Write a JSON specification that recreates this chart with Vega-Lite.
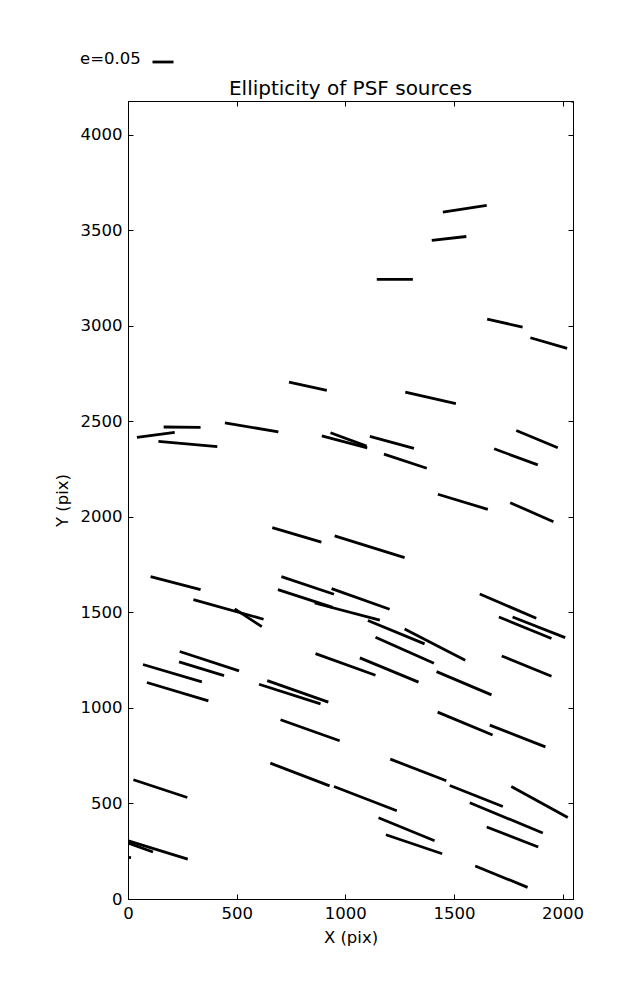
{
  "$schema": "https://vega.github.io/schema/vega-lite/v6.json",
  "width": 445,
  "height": 798,
  "autosize": "none",
  "padding": {"left": 128, "top": 101, "right": 64, "bottom": 101},
  "background": "white",
  "title": {"text": "Ellipticity of PSF sources", "fontSize": 20, "font": "DejaVu Sans", "fontWeight": "normal", "color": "black", "offset": -49, "anchor": "middle"},
  "data": {"values": [
    {"xa": 1449, "ya": 3595, "xb": 1651, "yb": 3630},
    {"xa": 1398, "ya": 3447, "xb": 1557, "yb": 3467},
    {"xa": 1145, "ya": 3243, "xb": 1311, "yb": 3243},
    {"xa": 1653, "ya": 3034, "xb": 1816, "yb": 2993},
    {"xa": 1852, "ya": 2937, "xb": 2021, "yb": 2881},
    {"xa": 741, "ya": 2705, "xb": 915, "yb": 2662},
    {"xa": 1276, "ya": 2653, "xb": 1509, "yb": 2592},
    {"xa": 41, "ya": 2416, "xb": 215, "yb": 2442},
    {"xa": 164, "ya": 2470, "xb": 334, "yb": 2468},
    {"xa": 140, "ya": 2395, "xb": 411, "yb": 2367},
    {"xa": 446, "ya": 2491, "xb": 692, "yb": 2445},
    {"xa": 892, "ya": 2424, "xb": 1101, "yb": 2361},
    {"xa": 932, "ya": 2440, "xb": 1098, "yb": 2370},
    {"xa": 1113, "ya": 2421, "xb": 1316, "yb": 2358},
    {"xa": 1178, "ya": 2328, "xb": 1375, "yb": 2254},
    {"xa": 1787, "ya": 2452, "xb": 1978, "yb": 2361},
    {"xa": 1685, "ya": 2356, "xb": 1886, "yb": 2272},
    {"xa": 1426, "ya": 2118, "xb": 1656, "yb": 2039},
    {"xa": 1759, "ya": 2074, "xb": 1958, "yb": 1974},
    {"xa": 664, "ya": 1943, "xb": 890, "yb": 1868},
    {"xa": 951, "ya": 1900, "xb": 1273, "yb": 1786},
    {"xa": 104, "ya": 1687, "xb": 334, "yb": 1619},
    {"xa": 706, "ya": 1687, "xb": 948, "yb": 1595},
    {"xa": 301, "ya": 1567, "xb": 624, "yb": 1464},
    {"xa": 491, "ya": 1518, "xb": 616, "yb": 1425},
    {"xa": 690, "ya": 1619, "xb": 942, "yb": 1526},
    {"xa": 859, "ya": 1549, "xb": 1159, "yb": 1459},
    {"xa": 937, "ya": 1624, "xb": 1204, "yb": 1516},
    {"xa": 1104, "ya": 1457, "xb": 1365, "yb": 1335},
    {"xa": 1273, "ya": 1413, "xb": 1552, "yb": 1250},
    {"xa": 1139, "ya": 1370, "xb": 1408, "yb": 1234},
    {"xa": 1619, "ya": 1596, "xb": 1879, "yb": 1469},
    {"xa": 1707, "ya": 1476, "xb": 1949, "yb": 1363},
    {"xa": 1770, "ya": 1476, "xb": 2012, "yb": 1368},
    {"xa": 238, "ya": 1295, "xb": 511, "yb": 1194},
    {"xa": 235, "ya": 1241, "xb": 442, "yb": 1169},
    {"xa": 69, "ya": 1227, "xb": 340, "yb": 1136},
    {"xa": 87, "ya": 1133, "xb": 370, "yb": 1037},
    {"xa": 863, "ya": 1284, "xb": 1139, "yb": 1171},
    {"xa": 641, "ya": 1143, "xb": 922, "yb": 1030},
    {"xa": 603, "ya": 1124, "xb": 886, "yb": 1021},
    {"xa": 1067, "ya": 1262, "xb": 1337, "yb": 1135},
    {"xa": 1420, "ya": 1190, "xb": 1673, "yb": 1068},
    {"xa": 1720, "ya": 1272, "xb": 1949, "yb": 1166},
    {"xa": 702, "ya": 938, "xb": 974, "yb": 828},
    {"xa": 1425, "ya": 978, "xb": 1678, "yb": 858},
    {"xa": 1665, "ya": 910, "xb": 1921, "yb": 796},
    {"xa": 25, "ya": 624, "xb": 273, "yb": 531},
    {"xa": 655, "ya": 711, "xb": 928, "yb": 592},
    {"xa": 948, "ya": 589, "xb": 1237, "yb": 462},
    {"xa": 1207, "ya": 732, "xb": 1465, "yb": 619},
    {"xa": 1481, "ya": 594, "xb": 1725, "yb": 484},
    {"xa": 1764, "ya": 589, "xb": 2024, "yb": 427},
    {"xa": 1573, "ya": 504, "xb": 1909, "yb": 345},
    {"xa": 1153, "ya": 425, "xb": 1411, "yb": 305},
    {"xa": 1187, "ya": 336, "xb": 1446, "yb": 237},
    {"xa": 1651, "ya": 377, "xb": 1888, "yb": 272},
    {"xa": -5, "ya": 307, "xb": 275, "yb": 209},
    {"xa": -5, "ya": 295, "xb": 115, "yb": 246},
    {"xa": 1598, "ya": 173, "xb": 1839, "yb": 61},
    {"xa": -30, "ya": 222, "xb": 14, "yb": 216},
    {"xa": 2025, "ya": 4182, "xb": 2060, "yb": 4170}
  ]},
  "layer": [
    {
      "mark": {"type": "rule", "clip": true, "strokeWidth": 2.8, "strokeCap": "butt"},
      "encoding": {
        "x": {"field": "xa", "type": "quantitative", "scale": {"domain": [0, 2048], "nice": false, "zero": false},
              "axis": {"title": "X (pix)", "values": [0, 500, 1000, 1500, 2000], "titlePadding": 8, "format": "d", "labelFlush": false}},
        "x2": {"field": "xb"},
        "y": {"field": "ya", "type": "quantitative", "scale": {"domain": [0, 4176], "nice": false, "zero": false},
              "axis": {"title": "Y (pix)", "values": [0, 500, 1000, 1500, 2000, 2500, 3000, 3500, 4000], "titlePadding": 10, "format": "d", "labelFlush": false}},
        "y2": {"field": "yb"},
        "color": {"datum": "e=0.05", "type": "nominal", "scale": {"range": ["black"]},
                  "legend": {"orient": "none", "legendX": -48, "legendY": -51, "title": "e=0.05", "titleOrient": "left",
                             "titleBaseline": "middle", "titleAnchor": "middle",
                             "titleFontSize": 16.5, "titleFont": "DejaVu Sans", "titleFontWeight": "normal", "titleColor": "black",
                             "titlePadding": 10, "labelExpr": "''", "symbolType": "stroke", "symbolStrokeWidth": 2.8,
                             "symbolSize": 441, "symbolStrokeColor": "black"}}
      }
    },
    {
      "mark": {"type": "rule", "opacity": 0},
      "encoding": {
        "x": {"field": "xa", "type": "quantitative", "axis": {"orient": "top", "labels": false, "title": null, "values": [0, 500, 1000, 1500, 2000]}},
        "y": {"field": "ya", "type": "quantitative", "axis": {"orient": "right", "labels": false, "title": null, "values": [0, 500, 1000, 1500, 2000, 2500, 3000, 3500, 4000]}}
      }
    }
  ],
  "resolve": {"axis": {"x": "independent", "y": "independent"}},
  "config": {
    "view": {"stroke": "black", "strokeWidth": 1},
    "axis": {"labelFont": "DejaVu Sans", "labelFontSize": 16.5, "labelColor": "black", "titleFont": "DejaVu Sans",
             "titleFontSize": 16.5, "titleFontWeight": "normal", "titleColor": "black", "tickColor": "black",
             "domainColor": "black", "grid": false, "tickSize": -5, "labelPadding": 11}
  }
}
